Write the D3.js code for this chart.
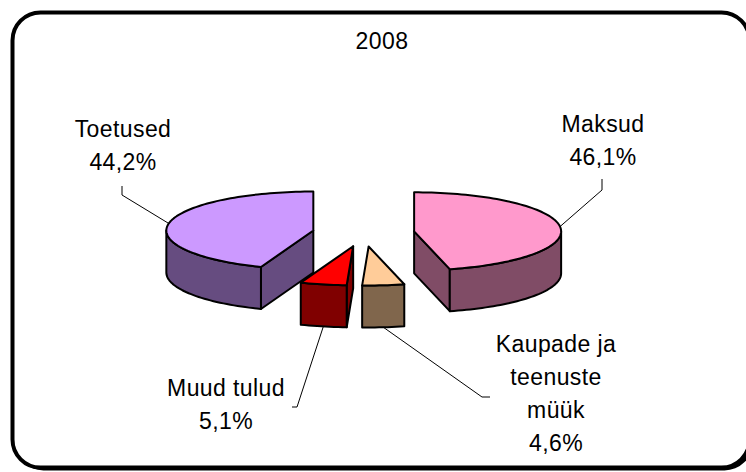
<!DOCTYPE html>
<html><head><meta charset="utf-8">
<script src="https://cdn.jsdelivr.net/npm/d3@7"></script>
<style>html,body{margin:0;padding:0;background:#fff;}svg{display:block;}</style>
</head><body>
<script>
// ---- data ----
const title = "2008";
const categories = ["Maksud", "Kaupade ja teenuste müük", "Muud tulud", "Toetused"];
const values = [46.1, 4.6, 5.1, 44.2];
const labelLines = [["Maksud"], ["Kaupade ja", "teenuste", "müük"], ["Muud tulud"], ["Toetused"]];
const topColors = ["#FF99CC", "#FFCC99", "#FF0000", "#CC99FF"];
const sideColors = ["#804C66", "#80664C", "#800000", "#664C80"];

// ---- layout ----
const W = 746, H = 472;
const cx = 363.5, cy = 233, R = 147, Rk = 39, depth = 42, explode = 0.347;
const fontSize = 23, lineH = 33;
const labelLayout = [
  {x: 603, y: 132, leader: [[602, 190], [602, 179]]},
  {x: 556, y: 352, leader: [[482, 397], [490, 397]]},
  {x: 226, y: 396, leader: [[297, 407], [292, 407]]},
  {x: 123, y: 137, leader: [[122, 195], [122, 186]]}
];

const svg = d3.select("body").append("svg").attr("width", W).attr("height", H);

// frame
svg.append("rect").attr("x", 15.5).attr("y", 15.5).attr("width", 737).attr("height", 455)
  .attr("rx", 28).attr("fill", "#000");
svg.append("rect").attr("x", 12.5).attr("y", 12.5).attr("width", 737).attr("height", 455)
  .attr("rx", 28).attr("fill", "#fff").attr("stroke", "#000").attr("stroke-width", 4);

svg.append("text").attr("x", 382).attr("y", 49).attr("text-anchor", "middle")
  .attr("font-family", "Liberation Sans, Arial, sans-serif").attr("font-size", fontSize)
  .attr("letter-spacing", 0.4).text(title);

// scales: world X (right) and Z (back) in unit radii
const xs = d3.scaleLinear().domain([-1, 1]).range([cx - R, cx + R]);
const zs = d3.scaleLinear().domain([-1, 1]).range([cy + Rk, cy - Rk]);

const arcs = d3.pie().sort(null).startAngle(0).endAngle(2 * Math.PI)(values);

const line = d3.line();
function pt(ox, oz, r, a, dy) { return [xs(ox + r * Math.sin(a)), zs(oz + r * Math.cos(a)) + dy]; }

const g = svg.append("g");
const order = d3.range(arcs.length).sort((a, b) => {
  const ma = (arcs[a].startAngle + arcs[a].endAngle) / 2, mb = (arcs[b].startAngle + arcs[b].endAngle) / 2;
  return Math.cos(mb) - Math.cos(ma);
});

const fmt = v => d3.format(".1f")(v).replace(".", ",") + "%";
const style = s => s.attr("stroke", "#000").attr("stroke-width", 2).attr("stroke-linejoin", "round");

order.forEach(i => {
  const d = arcs[i];
  const a0 = d.startAngle, a1 = d.endAngle, mid = (a0 + a1) / 2;
  const ox = explode * Math.sin(mid), oz = explode * Math.cos(mid);
  const sg = g.append("g");
  // radial faces visible when their normal points toward the viewer
  const faces = [];
  if (Math.sin(a0) < -1e-3) faces.push(a0);
  if (Math.sin(a1) > 1e-3) faces.push(a1);
  faces.forEach(a => {
    const c0 = pt(ox, oz, 0, a, 0), c1 = pt(ox, oz, 1, a, 0);
    sg.append("path").attr("d", line([c0, c1, [c1[0], c1[1] + depth], [c0[0], c0[1] + depth]]) + "Z")
      .attr("fill", sideColors[i]).call(style);
  });
  // outer wall (front half)
  const w0 = Math.max(a0, Math.PI / 2), w1 = Math.min(a1, 3 * Math.PI / 2);
  if (w1 > w0) {
    const n = Math.max(4, Math.ceil((w1 - w0) / 0.03));
    const topPts = d3.range(n + 1).map(k => pt(ox, oz, 1, w0 + (w1 - w0) * k / n, 0));
    const botPts = topPts.map(p => [p[0], p[1] + depth]).reverse();
    sg.append("path").attr("d", line(topPts.concat(botPts)) + "Z")
      .attr("fill", sideColors[i]).call(style);
  }
  // top face
  const n = Math.max(4, Math.ceil((a1 - a0) / 0.03));
  const arcPts = d3.range(n + 1).map(k => pt(ox, oz, 1, a0 + (a1 - a0) * k / n, 0));
  sg.append("path").attr("d", line([pt(ox, oz, 0, 0, 0)].concat(arcPts)) + "Z")
    .attr("fill", topColors[i]).call(style);

  // leader line
  const onWall = Math.cos(mid) < 0;
  const start = pt(ox, oz, 1, mid, onWall ? depth : 0);
  const L = labelLayout[i];
  svg.append("path").attr("d", line([start].concat(L.leader)))
    .attr("fill", "none").attr("stroke", "#000").attr("stroke-width", 1);

  // label
  const lines = labelLines[i].concat([fmt(values[i])]);
  const t = svg.append("text").attr("text-anchor", "middle")
    .attr("font-family", "Liberation Sans, Arial, sans-serif").attr("font-size", fontSize)
    .attr("letter-spacing", 0.4);
  lines.forEach((s, k) => t.append("tspan").attr("x", L.x).attr("y", L.y + k * lineH).text(s));
});
</script>
</body></html>
